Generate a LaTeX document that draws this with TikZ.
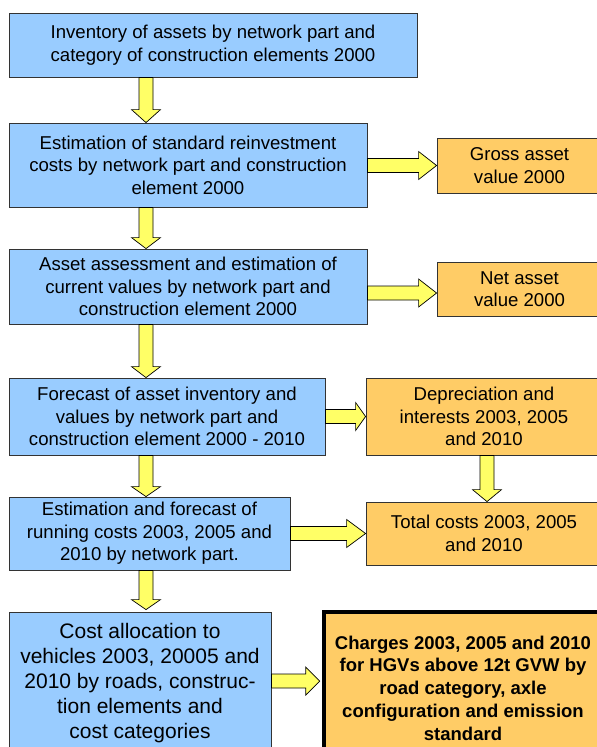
\documentclass[tikz,border=0pt]{standalone}
\usepackage{fontspec}
\setmainfont{Liberation Sans}
\usepackage{tikz}
\usetikzlibrary{calc}

\definecolor{boxblue}{RGB}{153,204,255}
\definecolor{boxorange}{RGB}{255,204,102}
\definecolor{arrowyellow}{RGB}{255,255,102}

% block arrows: [head length]{start}{tip}
\newcommand{\vblock}[3][11]{%
  \draw[fatarrow] let \p1=(#2), \p2=(#3) in
    (\x2-7pt,\y1) -- (\x2+7pt,\y1) -- (\x2+7pt,\y2+#1pt) -- (\x2+14.5pt,\y2+#1pt)
    -- (\x2,\y2) -- (\x2-14.5pt,\y2+#1pt) -- (\x2-7pt,\y2+#1pt) -- cycle;}
\newcommand{\hblock}[3][15]{%
  \draw[fatarrow] let \p1=(#2), \p2=(#3) in
    (\x1,\y2+7pt) -- (\x2-#1pt,\y2+7pt) -- (\x2-#1pt,\y2+14pt) -- (\x2,\y2)
    -- (\x2-#1pt,\y2-14pt) -- (\x2-#1pt,\y2-7pt) -- (\x1,\y2-7pt) -- cycle;}

\begin{document}
\begin{tikzpicture}[x=1pt, y=-1pt, line width=.8pt,
    bluebox/.style={draw=black!80, fill=boxblue, align=center, inner sep=2pt,
      font=\fontsize{18.6}{22.5}\selectfont},
    orangebox/.style={draw=black!80, fill=boxorange, align=center, inner sep=2pt,
      font=\fontsize{18.6}{22.5}\selectfont},
    fatarrow/.style={draw=black, fill=arrowyellow, line width=.7pt, line join=miter}]
    \useasboundingbox (0,0) rectangle (597,747);
    \clip (0,0) rectangle (597,747);
    \fill[white] (0,0) rectangle (597,747);

    \coordinate (mainaxis) at (146,0);
    \coordinate (sideaxis) at (487,0);

    \node[bluebox, minimum width=408pt, minimum height=64pt] (inventory) at (213,45)
        {Inventory of assets by network part and\\category of construction elements 2000};
    \node[bluebox, minimum width=358pt, minimum height=84pt] (reinvest) at (188,165)
        {Estimation of standard reinvestment\\costs by network part and construction\\element 2000};
    \node[orangebox, minimum width=165pt, minimum height=55pt] (gross) at (519.5,165.5)
        {Gross asset\\value 2000};
    \node[bluebox, minimum width=358pt, minimum height=75pt] (assess) at (188,286.5)
        {Asset assessment and estimation of\\current values by network part and\\construction element 2000};
    \node[orangebox, minimum width=165pt, minimum height=54pt] (net) at (519.5,289)
        {Net asset\\value 2000};
    \node[bluebox, minimum width=316pt, minimum height=77pt] (forecast) at (167,416.5)
        {Forecast of asset inventory and\\values by network part and\\construction element 2000 - 2010};
    \node[orangebox, minimum width=236pt, minimum height=77pt] (deprec) at (484,416.5)
        {Depreciation and\\interests 2003, 2005\\and 2010};
    \node[bluebox, minimum width=281pt, minimum height=73pt] (running) at (149.5,533.5)
        {Estimation and forecast of\\running costs 2003, 2005 and\\2010 by network part.};
    \node[orangebox, minimum width=236pt, minimum height=63pt] (total) at (484,533.5)
        {Total costs 2003, 2005\\and 2010};
    \node[bluebox, minimum width=262pt, minimum height=142pt,
        font=\fontsize{21}{25}\selectfont] (alloc) at (140,683)
        {Cost allocation to\\vehicles 2003, 20005 and\\2010 by roads, construc-\\tion elements and\\cost categories};
    \node[orangebox, draw=black, line width=4.5pt, minimum width=278pt, minimum height=152pt,
        font=\bfseries\fontsize{18.5}{22.7}\selectfont] (charges) at (463,688)
        {Charges 2003, 2005 and 2010\\for HGVs above 12t GVW by\\road category, axle\\configuration and emission\\standard};

    \vblock[13]{inventory.south -| mainaxis}{reinvest.north -| mainaxis}
    \vblock{reinvest.south -| mainaxis}{assess.north -| mainaxis}
    \vblock{assess.south -| mainaxis}{forecast.north -| mainaxis}
    \vblock[10]{forecast.south -| mainaxis}{running.north -| mainaxis}
    \vblock[10]{running.south -| mainaxis}{[yshift=2pt]alloc.north -| mainaxis}
    \vblock[12]{deprec.south -| sideaxis}{total.north -| sideaxis}

    \hblock[18]{reinvest.east}{gross.west}
    \hblock[18]{assess.east}{[yshift=-4pt]net.west}
    \hblock[10]{forecast.east}{deprec.west}
    \hblock[19]{running.east}{total.west}
    \hblock[14]{alloc.east}{[yshift=7pt,xshift=-2pt]charges.west}
\end{tikzpicture}
\end{document}
